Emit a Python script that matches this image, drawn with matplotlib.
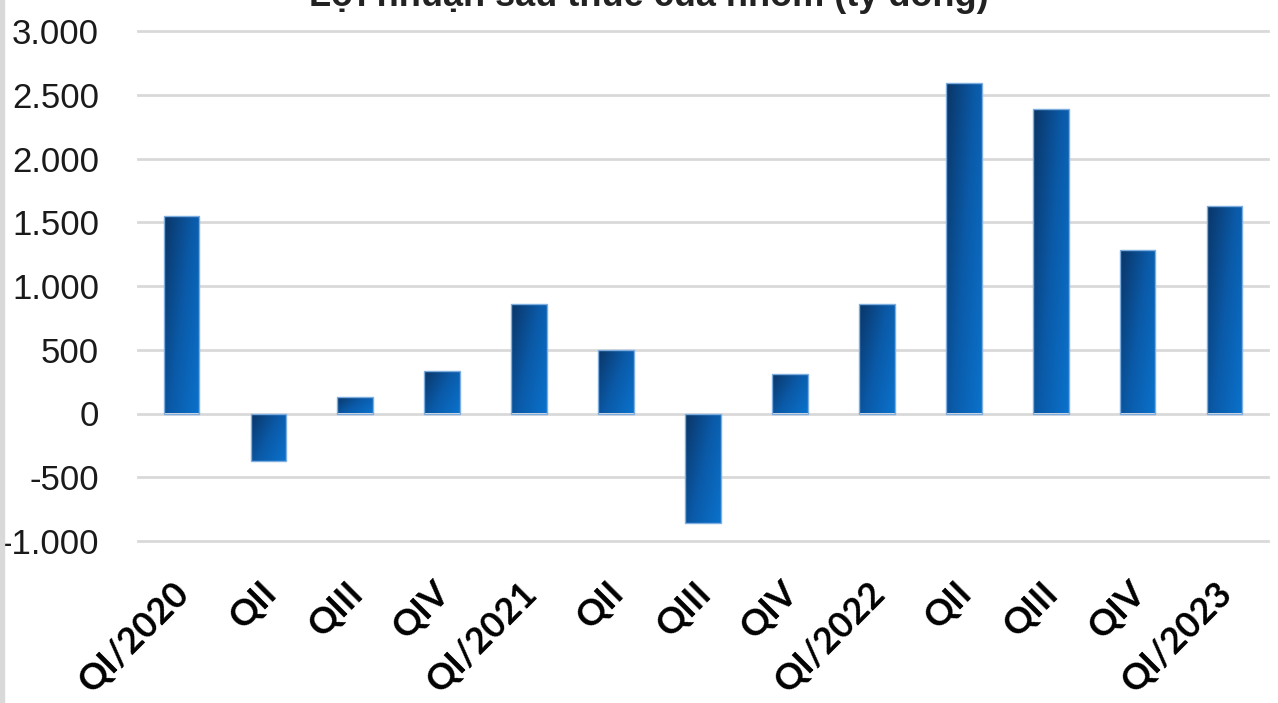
import numpy as np
import matplotlib
matplotlib.use("Agg")
import matplotlib.pyplot as plt
from matplotlib.colors import LinearSegmentedColormap
from matplotlib.transforms import ScaledTranslation
from matplotlib.patches import Rectangle

# dữ liệu
quarters = ["QI/2020", "QII", "QIII", "QIV",
            "QI/2021", "QII", "QIII", "QIV",
            "QI/2022", "QII", "QIII", "QIV",
            "QI/2023"]
profit = [1550, -370, 130, 330,
          860, 500, -860, 310,
          860, 2590, 2390, 1280,
          1630]
yticks = [-1000, -500, 0, 500, 1000, 1500, 2000, 2500, 3000]
title = "Lợi nhuận sau thuế của nhóm (tỷ đồng)"

fig = plt.figure(figsize=(12.78, 7.03), dpi=100)
ax = fig.add_axes([138 / 1278, 1 - 541 / 703, 1130 / 1278, 510 / 703])

cmap = LinearSegmentedColormap.from_list("bar", ["#0a3566", "#0a5aa8", "#0a72cc"])
xx, yy = np.meshgrid(np.linspace(0, 1, 60), np.linspace(0, 1, 120))
grad = 0.6 * xx + 0.4 * yy  # dark top-left -> light bottom-right

x = np.arange(len(quarters))
bars = ax.bar(x, profit, width=0.41, color="none", edgecolor="#7eaee0",
              linewidth=1.0, zorder=3)
for b in bars:
    x0, w = b.get_x(), b.get_width()
    y0, h = b.get_y(), b.get_height()
    top, bot = max(y0, y0 + h), min(y0, y0 + h)
    im = ax.imshow(grad, cmap=cmap, extent=[x0, x0 + w, bot, top],
                   origin="upper", aspect="auto", zorder=2)
    im.set_clip_path(b)

ax.set_xlim(-0.5, len(quarters) - 0.5)
ax.set_ylim(-1000, 3000)
ax.set_yticks(yticks)
ax.set_yticklabels([f"{v:,}".replace(",", ".") for v in yticks],
                   fontsize=25, family="Liberation Sans", color="#1a1a1a")
ax.set_xticks(x)
ax.set_xticklabels(quarters, rotation=45, ha="right", rotation_mode="anchor",
                   fontsize=26, family="Lato", fontweight="bold", color="black")
ax.tick_params(axis="y", length=0, pad=28)
ax.tick_params(axis="x", length=0, pad=25)
shift = ScaledTranslation(-9 / 100, 0, fig.dpi_scale_trans)
for lab in ax.get_xticklabels():
    lab.set_transform(lab.get_transform() + shift)

ax.yaxis.grid(True, color="#d9d9d9", linewidth=2, zorder=0)
for gl in ax.get_ygridlines():
    gl.set_clip_on(False)
for s in ax.spines.values():
    s.set_visible(False)

# title, partly cut off at the top like the source image
fig.text(0.508, 1.006, title, ha="center", va="center", fontsize=26,
         fontweight="bold", family="Liberation Sans", color="#222222")

# grey border at left edge
fig.patches.append(Rectangle((0, 0), 4 / 1278, 1, transform=fig.transFigure,
                             color="#d9d9d9", zorder=0))

fig.savefig("out.png", dpi=100)
